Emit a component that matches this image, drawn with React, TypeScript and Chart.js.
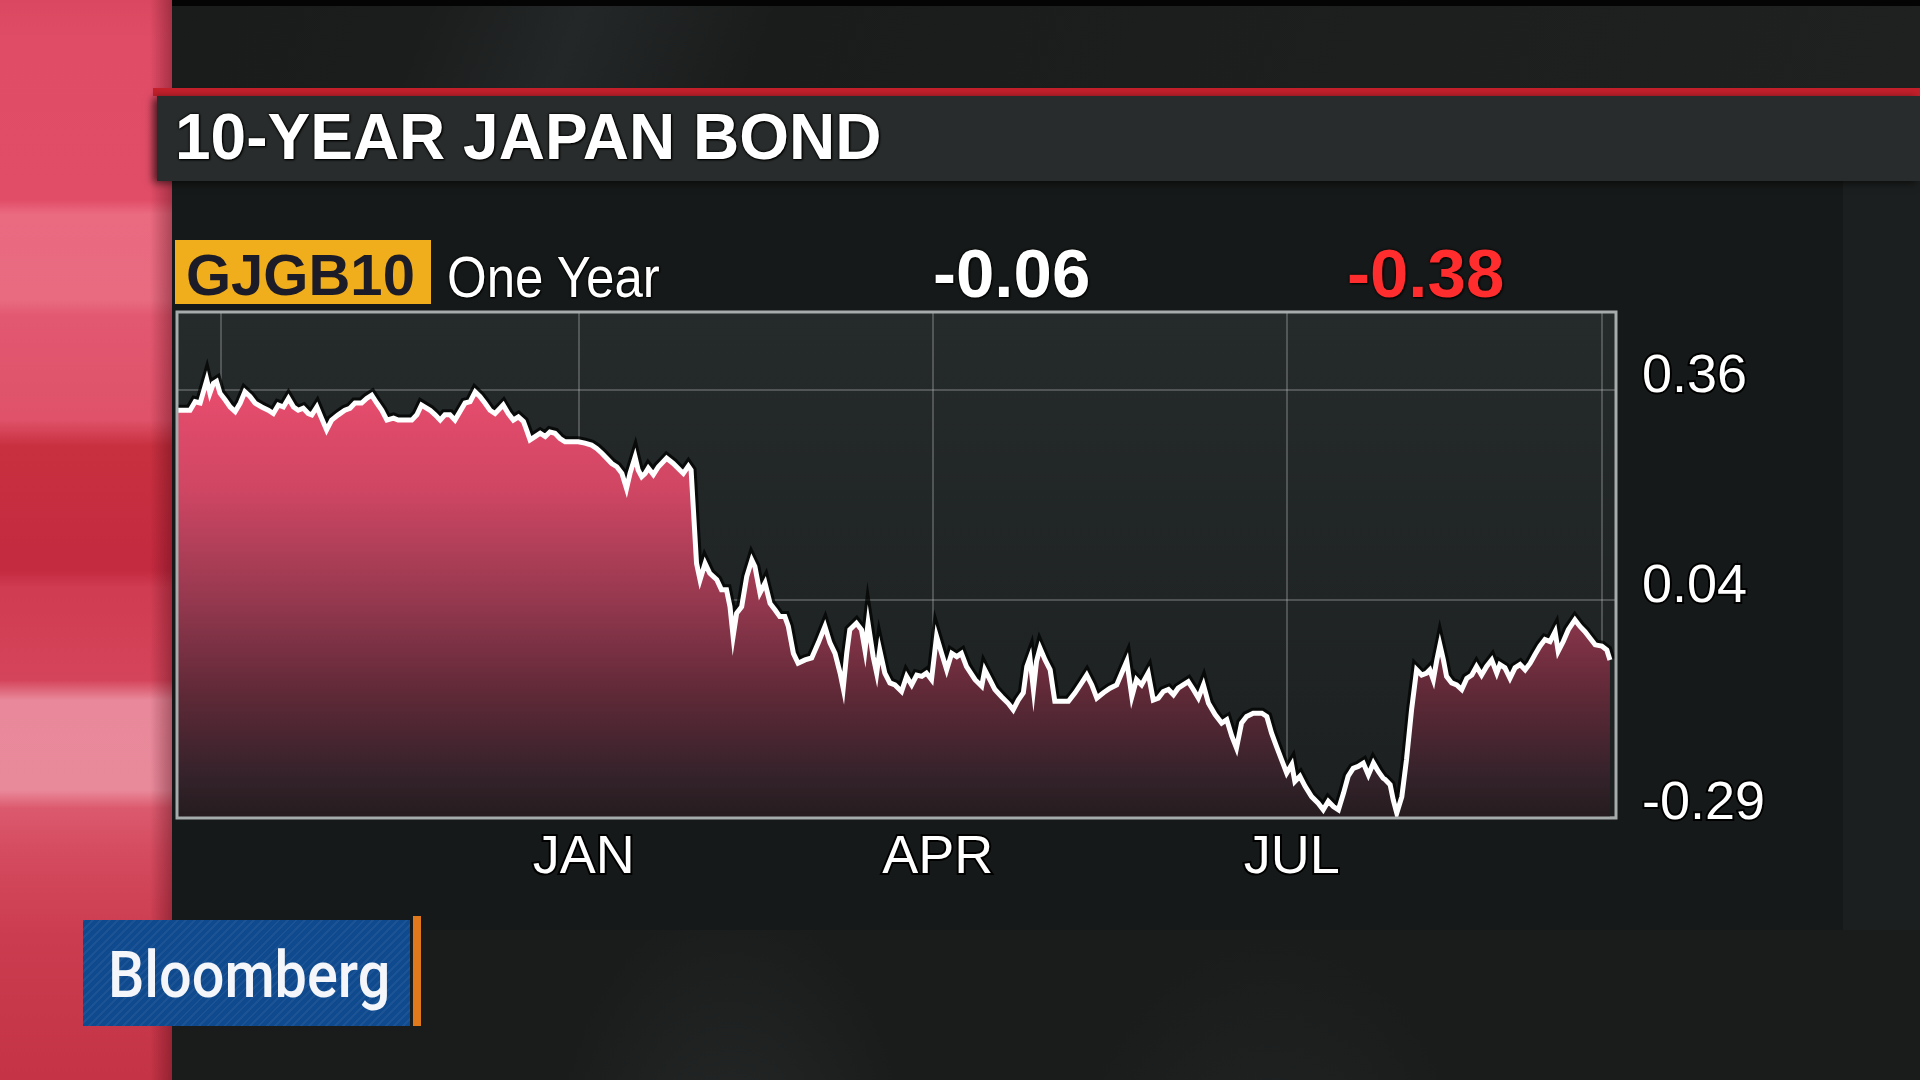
import React, { useEffect, useRef } from "react";
import { Chart, registerables } from "chart.js";

Chart.register(...registerables);

// ---- data (calendar-day offset from 20 Sep 2015, yield in %) ----
const days = [
  0, 3.1, 4.4, 5.7, 7.4, 8.2, 9.1, 9.9, 10.8, 12.1, 13.4, 14.7, 16.0, 17.2, 18.5, 19.8, 21.5, 23.2, 24.5, 25.8,
  27.1, 28.4, 29.7, 30.9, 32.2, 33.5, 34.4, 35.7, 36.9, 38.2, 39.5, 41.2, 42.9, 44.2, 45.5, 47.2, 48.5, 49.8, 51.1,
  52.4, 53.7, 55.4, 56.6, 58.4, 60.1, 61.4, 62.6,
  64.8, 66.1, 67.4, 68.6, 69.9, 71.2, 72.5, 73.8, 75.1, 76.4, 77.6, 78.9, 80.2, 81.5, 82.8, 83.6, 84.9, 86.2, 87.5,
  88.8, 89.6, 90.5, 91.8, 93.1, 94.4, 95.6, 96.9, 98.2, 99.5, 101.2, 102.9, 104.6, 106.3, 107.6, 108.9, 110.2, 111.5,
  112.8, 114.1, 115.3, 116.2, 117.5, 118.3, 119.2, 120.1, 120.9, 122.2, 123.5, 124.8,
  125.6, 127.3, 129.0, 129.9, 131.2, 131.9, 133.3, 134.2, 135.5, 136.7, 138.5, 139.7, 141.0, 141.9, 142.7, 143.6,
  144.9, 146.2, 147.5, 148.3, 149.6, 150.9, 152.2, 153.5, 154.7, 156.0, 156.9, 158.2, 159.4, 161.2, 162.9, 164.6,
  166.3, 167.6, 168.9, 170.2, 171.0, 171.9, 172.7, 174.4, 175.7, 176.6, 177.4, 178.7, 179.6, 180.4, 181.7, 183.0,
  184.3, 186.0,
  187.3, 188.6, 189.9, 191.2, 192.4, 193.7, 195.0, 196.3, 197.6, 198.9, 200.2, 201.4, 202.7, 204.9, 206.6, 207.4,
  208.7, 210.0, 211.7, 213.4, 214.7, 216.0, 217.3, 218.2, 219.0, 219.9, 220.7, 221.6, 222.9, 224.2, 225.4, 227.2,
  228.9, 230.6, 232.3, 233.6, 234.9, 236.2, 237.9, 239.6, 241.3, 242.6, 243.9, 245.2, 246.4, 247.7,
  249.4, 250.7, 252.0, 253.3, 254.6, 255.9, 257.1, 258.4, 259.7, 261.0, 262.3, 263.6, 264.9, 266.6, 268.3, 269.6,
  270.9, 272.1, 273.4, 274.7, 276.4, 278.6, 279.9, 281.1, 282.4, 283.7, 285.0, 286.3, 287.1, 288.4, 289.7, 291.4,
  293.1, 294.4, 295.7, 297.0, 298.3, 299.6, 300.8, 302.1, 303.4, 304.7, 306.0, 307.3, 308.6, 309.8,
  310.3, 311.6, 312.4, 313.3, 314.6, 315.8, 317.1, 318.4, 319.7, 321.0, 321.8, 322.7, 323.6, 324.4, 325.3, 326.1,
  327.4, 328.7, 330.0, 331.3, 332.6, 333.8, 335.1, 336.4, 337.7, 339.0, 339.8, 341.1, 342.4, 343.7, 345.0, 346.3,
  347.6, 348.8, 350.1, 351.4, 352.7, 354.0, 354.8, 356.1, 357.4, 359.1, 360.4, 361.7, 363.0, 364.3, 366.0, 367.3, 368.1,
];

const yields = [
  0.329, 0.329, 0.342, 0.340, 0.375, 0.355, 0.370, 0.373, 0.355, 0.345, 0.334, 0.327, 0.340, 0.357, 0.350, 0.340,
  0.334, 0.329, 0.324, 0.337, 0.334, 0.347, 0.334, 0.329, 0.332, 0.324, 0.322, 0.334, 0.317, 0.299, 0.314, 0.322,
  0.329, 0.332, 0.340, 0.340, 0.347, 0.352, 0.340, 0.329, 0.314, 0.317, 0.314, 0.314, 0.314, 0.322, 0.337,
  0.329, 0.322, 0.314, 0.322, 0.322, 0.314, 0.327, 0.340, 0.342, 0.357, 0.350, 0.340, 0.329, 0.324, 0.332, 0.337,
  0.324, 0.314, 0.319, 0.312, 0.299, 0.284, 0.289, 0.294, 0.289, 0.296, 0.294, 0.286, 0.281, 0.281, 0.281, 0.279,
  0.276, 0.271, 0.264, 0.256, 0.248, 0.243, 0.233, 0.210, 0.233, 0.258, 0.238, 0.228, 0.233, 0.241, 0.231, 0.243,
  0.251,
  0.256, 0.248, 0.238, 0.233, 0.244, 0.238, 0.096, 0.071, 0.096, 0.081, 0.071, 0.056, 0.056, 0.030, -0.015, 0.020,
  0.030, 0.076, 0.101, 0.091, 0.051, 0.066, 0.035, 0.025, 0.015, 0.015, 0.000, -0.041, -0.056, -0.051, -0.048,
  -0.025, 0.000, -0.025, -0.041, -0.071, -0.094, -0.041, -0.005, 0.005, -0.005, -0.036, 0.005, -0.046, -0.071,
  -0.036, -0.071, -0.086, -0.089, -0.099,
  -0.076, -0.089, -0.074, -0.076, -0.071, -0.081, -0.015, -0.041, -0.066, -0.041, -0.046, -0.041, -0.061, -0.081,
  -0.091, -0.066, -0.081, -0.096, -0.107, -0.117, -0.127, -0.112, -0.101, -0.061, -0.048, -0.096, -0.053, -0.033,
  -0.051, -0.066, -0.114, -0.114, -0.114, -0.101, -0.086, -0.074, -0.089, -0.109, -0.101, -0.094, -0.089, -0.071,
  -0.053, -0.107, -0.081, -0.089,
  -0.071, -0.112, -0.109, -0.099, -0.096, -0.104, -0.094, -0.089, -0.084, -0.096, -0.109, -0.089, -0.117, -0.134,
  -0.147, -0.142, -0.167, -0.185, -0.147, -0.137, -0.132, -0.132, -0.137, -0.162, -0.183, -0.203, -0.223, -0.210,
  -0.236, -0.228, -0.243, -0.259, -0.269, -0.279, -0.266, -0.274, -0.279, -0.254, -0.228, -0.216, -0.213, -0.208,
  -0.226, -0.208, -0.221, -0.231,
  -0.233, -0.241, -0.264, -0.284, -0.259, -0.203, -0.127, -0.066, -0.074, -0.071, -0.066, -0.081, -0.051, -0.028,
  -0.051, -0.076, -0.086, -0.089, -0.096, -0.079, -0.074, -0.061, -0.074, -0.061, -0.051, -0.071, -0.058, -0.063,
  -0.079, -0.063, -0.058, -0.066, -0.056, -0.043, -0.030, -0.020, -0.023, -0.008, -0.038, -0.023, -0.005, 0.010,
  0.000, -0.008, -0.018, -0.028, -0.030, -0.036, -0.051,
];

const xGridDays = [11, 103, 194, 285, 366];
const xGridLabels = ["", "JAN", "APR", "JUL", ""];
const xRange = [0, 369.4];
const yTicks = [-0.29, 0.04, 0.36];
const yTickLabels = ["-0.29", "0.04", "0.36"];
const yRange = [-0.29, 0.477];

const titleText = "10-YEAR JAPAN BOND";
const tickerText = "GJGB10";
const periodText = "One Year";
const lastText = "-0.06";
const changeText = "-0.38";
const brandText = "Bloomberg";

const FONT = "'Liberation Sans', Arial, Helvetica, sans-serif";

const plotFrame = {
  id: "plotFrame",
  beforeDraw(chart: any) {
    const { ctx, chartArea: a } = chart;
    if (!a) return;
    const g = ctx.createLinearGradient(0, a.top, 0, a.bottom);
    g.addColorStop(0, "#252a2a");
    g.addColorStop(1, "#1c2020");
    ctx.save();
    ctx.fillStyle = g;
    ctx.fillRect(a.left, a.top, a.right - a.left, a.bottom - a.top);
    ctx.restore();
  },
  afterDraw(chart: any) {
    const { ctx, chartArea: a } = chart;
    if (!a) return;
    ctx.save();
    ctx.strokeStyle = "#a6abab";
    ctx.lineWidth = 3;
    ctx.strokeRect(a.left - 1, a.top - 1, a.right - a.left + 2, a.bottom - a.top + 2);
    ctx.restore();
  },
};

function ChartCanvas() {
  const ref = useRef<HTMLCanvasElement | null>(null);
  useEffect(() => {
    if (!ref.current) return;
    const points = days.map((d, i) => ({ x: d, y: yields[i] }));
    const fillGrad = (c: any) => {
      const chart = c.chart;
      const a = chart.chartArea;
      if (!a) return "rgba(0,0,0,0)";
      const g = chart.ctx.createLinearGradient(0, a.top, 0, a.bottom);
      g.addColorStop(0.0, "#f05475");
      g.addColorStop(0.14, "#e94d6e");
      g.addColorStop(0.35, "#cf4663");
      g.addColorStop(0.56, "#983950");
      g.addColorStop(0.76, "#5e2937");
      g.addColorStop(0.92, "#34222a");
      g.addColorStop(1.0, "#251c1f");
      return g;
    };
    const gridColor = "rgba(200,205,205,0.28)";
    const tickFont = { family: FONT, size: 54 };
    const chart = new Chart(ref.current, {
      type: "line",
      data: {
        datasets: [
          {
            data: points,
            borderColor: "#ffffff",
            borderWidth: 5,
            pointRadius: 0,
            tension: 0,
            fill: "start",
            backgroundColor: fillGrad,
            order: 1,
          },
          {
            data: points,
            borderColor: "rgba(0,0,0,0.72)",
            borderWidth: 11,
            pointRadius: 0,
            tension: 0,
            fill: false,
            order: 2,
          },
        ],
      },
      options: {
        responsive: false,
        animation: false,
        events: [],
        layout: { padding: { left: 178, top: 313, right: 0, bottom: 0 } },
        plugins: { legend: { display: false }, tooltip: { enabled: false }, title: { display: false } },
        scales: {
          x: {
            type: "linear",
            min: xRange[0],
            max: xRange[1],
            z: 1,
            afterBuildTicks: (s: any) => {
              s.ticks = xGridDays.map((v) => ({ value: v }));
            },
            afterFit: (s: any) => {
              s.height = 263;
              s.paddingLeft = 0;
              s.paddingRight = 0;
            },
            grid: { color: gridColor, lineWidth: 2, drawTicks: false },
            border: { display: false },
            ticks: {
              autoSkip: false,
              maxRotation: 0,
              padding: 9,
              labelOffset: 5,
              color: "#ffffff",
              textStrokeColor: "#000000",
              textStrokeWidth: 4,
              font: tickFont,
              callback: (_v: any, i: number) => xGridLabels[i],
            },
          },
          y: {
            type: "linear",
            position: "right",
            min: yRange[0],
            max: yRange[1],
            z: 1,
            afterBuildTicks: (s: any) => {
              s.ticks = yTicks.map((v) => ({ value: v }));
            },
            afterFit: (s: any) => {
              s.width = 305;
              s.paddingTop = 0;
              s.paddingBottom = 0;
            },
            grid: { color: gridColor, lineWidth: 2, drawTicks: false },
            border: { display: false },
            ticks: {
              autoSkip: false,
              padding: 27,
              labelOffset: -13,
              color: "#ffffff",
              textStrokeColor: "#000000",
              textStrokeWidth: 4,
              font: tickFont,
              callback: (_v: any, i: number) => yTickLabels[i],
            },
          },
        },
      },
      plugins: [plotFrame],
    } as any);
    return () => chart.destroy();
  }, []);
  return (
    <canvas
      ref={ref}
      width={1920}
      height={1080}
      style={{ position: "absolute", left: 0, top: 0, width: 1920, height: 1080, zIndex: 5 }}
    />
  );
}

const abs = (s: React.CSSProperties): React.CSSProperties => ({ position: "absolute", ...s });

export default function App() {
  const shadow = "0 0 3px #000, 0 0 2px #000, 1px 1px 2px #000";
  return (
    <div style={abs({ left: 0, top: 0, width: 1920, height: 1080, overflow: "hidden", background: "#1b1e1e" })}>
      {/* top region */}
      <div
        style={abs({
          left: 0,
          top: 0,
          width: 1920,
          height: 96,
          background:
            "linear-gradient(112deg, #191b1b 0%, #1b1d1d 22%, #242727 30%, #1a1c1c 40%, #1c1e1e 60%, #1f2121 100%)",
        })}
      />
      <div style={abs({ left: 0, top: 0, width: 1920, height: 6, background: "#040404" })} />
      {/* panel */}
      <div style={abs({ left: 171, top: 181, width: 1672, height: 786, background: "#161919" })} />
      <div style={abs({ left: 1843, top: 181, width: 77, height: 786, background: "#1c1f1f" })} />
      {/* bottom swooshes */}
      <div
        style={abs({
          left: 171,
          top: 930,
          width: 1749,
          height: 150,
          background:
            "radial-gradient(ellipse 260px 420px at 560px 260px, rgba(60,64,64,0.35), rgba(0,0,0,0) 70%), radial-gradient(ellipse 300px 420px at 1100px 300px, rgba(55,58,58,0.3), rgba(0,0,0,0) 70%), #1a1c1c",
        })}
      />
      {/* left red bar */}
      <div
        style={abs({
          left: 0,
          top: 0,
          width: 172,
          height: 1080,
          background:
            "linear-gradient(180deg, #d94860 0px, #e04c66 40px, #e14d67 200px, #ea6a80 214px, #e86b80 300px, #e25870 316px, #df5269 420px, #c8303f 446px, #c42a40 570px, #d03c52 588px, #d4445a 680px, #e8889a 700px, #e98a9b 790px, #dc5a6e 808px, #d44a5e 855px, #cc3c50 935px, #c43446 1080px)",
        })}
      />
      <div
        style={abs({
          left: 150,
          top: 0,
          width: 22,
          height: 1080,
          background: "linear-gradient(90deg, rgba(0,0,0,0) 0%, rgba(60,0,10,0.35) 100%)",
        })}
      />
      {/* red rule + title bar */}
      <div style={abs({ left: 153, top: 88, width: 1767, height: 8, background: "#c3202b" })} />
      <div
        style={abs({
          left: 157,
          top: 96,
          width: 1763,
          height: 85,
          background: "#292c2c",
          boxShadow: "-4px 2px 8px rgba(0,0,0,0.6)",
        })}
      />
      <div
        style={abs({
          left: 175,
          top: 105,
          fontFamily: FONT,
          fontWeight: 700,
          fontSize: 64,
          lineHeight: 1,
          color: "#ffffff",
          whiteSpace: "nowrap",
          textShadow: shadow,
        })}
      >
        {titleText}
      </div>
      {/* header row */}
      <div style={abs({ left: 175, top: 240, width: 256, height: 64, background: "#f1ae1c" })} />
      <div
        style={abs({
          left: 186,
          top: 246,
          fontFamily: FONT,
          fontWeight: 700,
          fontSize: 58,
          lineHeight: 1,
          color: "#1c1b28",
          whiteSpace: "nowrap",
          zIndex: 6,
        })}
      >
        {tickerText}
      </div>
      <div
        style={abs({
          left: 447,
          top: 248,
          fontFamily: FONT,
          fontWeight: 400,
          fontSize: 58,
          lineHeight: 1,
          color: "#ffffff",
          whiteSpace: "nowrap",
          transform: "scaleX(0.88)",
          transformOrigin: "left top",
          textShadow: shadow,
          zIndex: 6,
        })}
      >
        {periodText}
      </div>
      <div
        style={abs({
          left: 933,
          top: 239,
          fontFamily: FONT,
          fontWeight: 700,
          fontSize: 69,
          lineHeight: 1,
          color: "#ffffff",
          whiteSpace: "nowrap",
          textShadow: shadow,
          zIndex: 6,
        })}
      >
        {lastText}
      </div>
      <div
        style={abs({
          left: 1347,
          top: 239,
          fontFamily: FONT,
          fontWeight: 700,
          fontSize: 69,
          lineHeight: 1,
          color: "#ff2d2d",
          whiteSpace: "nowrap",
          textShadow: "0 0 3px #000, 1px 1px 2px #000",
          zIndex: 6,
        })}
      >
        {changeText}
      </div>
      <ChartCanvas />
      {/* logo */}
      <div
        style={abs({
          left: 83,
          top: 920,
          width: 327,
          height: 106,
          background:
            "repeating-linear-gradient(135deg, rgba(255,255,255,0.05) 0px, rgba(255,255,255,0.05) 2px, rgba(0,0,0,0) 2px, rgba(0,0,0,0) 6px), #0f4a8e",
          zIndex: 6,
        })}
      />
      <div style={abs({ left: 413, top: 916, width: 8, height: 110, background: "#e0781c", zIndex: 6 })} />
      <div
        style={abs({
          left: 108,
          top: 944,
          fontFamily: "Roboto, 'Liberation Sans', Arial, sans-serif",
          fontWeight: 500,
          fontSize: 64,
          lineHeight: 1,
          color: "#f4f6fa",
          whiteSpace: "nowrap",
          transform: "scaleX(0.9)",
          transformOrigin: "left top",
          zIndex: 7,
        })}
      >
        {brandText}
      </div>
    </div>
  );
}
